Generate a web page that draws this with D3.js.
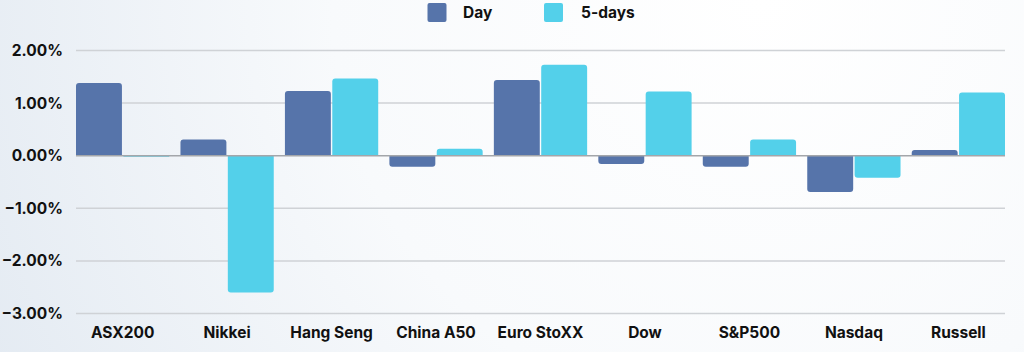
<!DOCTYPE html>
<html>
<head>
<meta charset="utf-8">
<script src="https://cdn.jsdelivr.net/npm/d3@7/dist/d3.min.js"></script>
<style>
  html, body { margin: 0; padding: 0; }
  body { width: 1024px; height: 352px; overflow: hidden; }
  svg { display: block; font-family: Inter, "Open Sans", sans-serif; }
</style>
</head>
<body>
<svg id="chart" width="1024" height="352"></svg>
<script>
const categories = ["ASX200", "Nikkei", "Hang Seng", "China A50", "Euro StoXX", "Dow", "S&P500", "Nasdaq", "Russell"];
const seriesNames = ["Day", "5-days"];
const dayValues = [1.38, 0.31, 1.23, -0.21, 1.44, -0.16, -0.21, -0.69, 0.11];
const fiveDayValues = [-0.02, -2.60, 1.47, 0.13, 1.73, 1.22, 0.31, -0.42, 1.20];
const yTicks = [2, 1, 0, -1, -2, -3];
const colors = ["#5674aa", "#53d0ea"];

const svg = d3.select("#chart");
const W = 1024, H = 352;

// background gradient
const defs = svg.append("defs");
const grad = defs.append("radialGradient").attr("id", "bg")
  .attr("gradientUnits", "userSpaceOnUse")
  .attr("cx", 760).attr("cy", 0).attr("r", 950);
grad.append("stop").attr("offset", "0").attr("stop-color", "#ffffff");
grad.append("stop").attr("offset", "0.45").attr("stop-color", "#f8fafc");
grad.append("stop").attr("offset", "1").attr("stop-color", "#dfe7f0");
svg.append("rect").attr("width", W).attr("height", H).attr("fill", "url(#bg)");

const left = 76, right = 1005;
const y = d3.scaleLinear().domain([-3, 2]).range([313.5, 50.5]);
const x0 = d3.scaleBand().domain(categories).range([left, right]).paddingInner(0.107).paddingOuter(0);
const x1 = d3.scaleBand().domain(seriesNames).range([0, x0.bandwidth()]).paddingInner(0.03);

// gridlines
svg.append("g").selectAll("line").data(yTicks.filter(t => t !== 0)).join("line")
  .attr("x1", left).attr("x2", right)
  .attr("y1", d => y(d)).attr("y2", d => y(d))
  .attr("stroke", "#cfd2d6").attr("stroke-width", 1.5);

// y axis labels
const yAxis = d3.axisLeft(y).tickValues(yTicks).tickFormat(d => d3.format(".2f")(d) + "%").tickSize(0).tickPadding(0);
const gy = svg.append("g").attr("transform", "translate(63,0)").call(yAxis);
gy.select(".domain").remove();
gy.selectAll("text").attr("font-size", "15.5px").attr("font-weight", 700).attr("fill", "#111")
  .attr("font-family", "Inter, sans-serif");

// bars
const data = categories.map((c, i) => ({ cat: c, vals: [
  { s: "Day", v: dayValues[i] }, { s: "5-days", v: fiveDayValues[i] }
]}));

function barPath(x, w, v) {
  const y0 = y(0), y1 = y(v);
  const h = Math.abs(y1 - y0);
  const r = Math.min(3, h / 2, w / 2);
  if (v >= 0) {
    return `M${x},${y0} L${x},${y1 + r} Q${x},${y1} ${x + r},${y1} L${x + w - r},${y1} Q${x + w},${y1} ${x + w},${y1 + r} L${x + w},${y0} Z`;
  } else {
    return `M${x},${y0} L${x},${y1 - r} Q${x},${y1} ${x + r},${y1} L${x + w - r},${y1} Q${x + w},${y1} ${x + w},${y1 - r} L${x + w},${y0} Z`;
  }
}

const groups = svg.append("g").selectAll("g").data(data).join("g")
  .attr("transform", d => `translate(${x0(d.cat)},0)`);
groups.selectAll("path").data(d => d.vals).join("path")
  .attr("d", d => barPath(x1(d.s), x1.bandwidth(), d.v))
  .attr("fill", (d, i) => colors[i]);

// zero line
svg.append("line").attr("x1", left).attr("x2", right).attr("y1", y(0)).attr("y2", y(0))
  .attr("stroke", "#a3a6aa").attr("stroke-width", 1.5);

// x axis labels
const xAxis = d3.axisBottom(x0).tickSize(0).tickPadding(0);
const gx = svg.append("g").attr("transform", "translate(0,333)").call(xAxis);
gx.select(".domain").remove();
gx.selectAll("text").attr("font-size", "15.5px").attr("font-weight", 700).attr("fill", "#111")
  .attr("dy", "0.35em").attr("font-family", "Inter, sans-serif");

// legend
const legendItems = [
  { name: seriesNames[0], color: colors[0], sx: 427.5, tx: 463 },
  { name: seriesNames[1], color: colors[1], sx: 544, tx: 581 }
];
const lg = svg.append("g");
lg.selectAll("rect").data(legendItems).join("rect")
  .attr("x", d => d.sx).attr("y", 3).attr("width", 19).attr("height", 19).attr("rx", 2)
  .attr("fill", d => d.color);
lg.selectAll("text").data(legendItems).join("text")
  .attr("x", d => d.tx).attr("y", 12.5).attr("dy", "0.35em")
  .attr("font-size", "15.5px").attr("font-weight", 700).attr("fill", "#111")
  .text(d => d.name);
</script>
</body>
</html>
